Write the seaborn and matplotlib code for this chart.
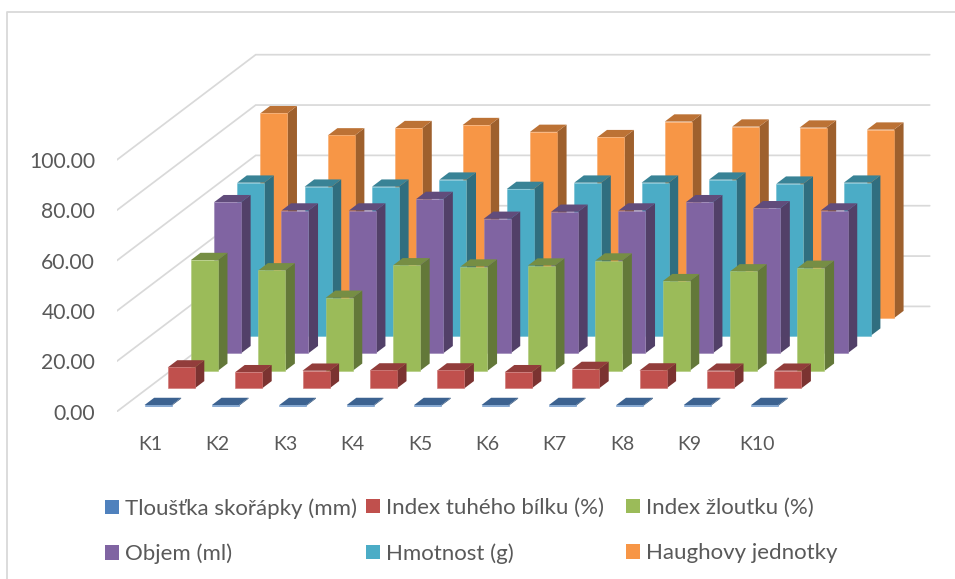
import numpy as np
import pandas as pd
import matplotlib
matplotlib.use("Agg")
import matplotlib.pyplot as plt
from matplotlib.colors import to_rgb
from matplotlib.lines import Line2D
from matplotlib.patches import Patch, Polygon
from matplotlib.transforms import Affine2D
import seaborn as sns

# Egg quality measurements per sample
samples = ["K1", "K2", "K3", "K4", "K5", "K6", "K7", "K8", "K9", "K10"]
tloustka = [0.35, 0.35, 0.35, 0.35, 0.35, 0.35, 0.35, 0.35, 0.35, 0.35]
index_bilku = [8.3, 6.4, 7.0, 7.1, 7.1, 6.4, 7.7, 7.1, 7.0, 7.0]
index_zloutku = [44.0, 39.9, 29.0, 41.9, 41.4, 41.8, 43.8, 35.6, 39.5, 40.9]
objem = [60.0, 56.7, 56.7, 61.3, 53.4, 56.2, 56.7, 60.0, 57.6, 56.7]
hmotnost = [60.8, 59.2, 59.2, 62.0, 58.3, 60.8, 60.8, 62.0, 60.4, 60.8]
haugh = [81.4, 72.6, 75.5, 76.7, 74.0, 71.9, 78.1, 76.1, 75.7, 74.9]

series_names = ["Tloušťka skořápky (mm)", "Index tuhého bílku (%)", "Index žloutku (%)",
                "Objem (ml)", "Hmotnost (g)", "Haughovy jednotky"]
series_values = [tloustka, index_bilku, index_zloutku, objem, hmotnost, haugh]
series_colors = ["#4F81BD", "#C0504D", "#9BBB59", "#8064A2", "#4BACC6", "#F79646"]
y_ticks = [0, 20, 40, 60, 80, 100]

# Pixel scale of the oblique projection
W, H = 955, 579
LEFT_PX, FLOOR_PX = 116.7, 411.7
CAT_PX, UNIT_PX = 67.4, 2.517
DEPTH_X_PX, DEPTH_Y_PX = 139.0, 105.3
KX, KY = DEPTH_X_PX / CAT_PX, DEPTH_Y_PX / UNIT_PX
BAR_WIDTH = 27.0 / CAT_PX
BAR_DEPTH = 0.069
FRONT_GAP = 0.055
GRID = "#D9D9D9"
TEXT = "#595959"


def project(x, v, depth):
    """Map category, value and depth (0 front, 1 back) to flat axes coordinates."""
    return x + KX * depth, v + KY * depth


sns.set_theme(style="white")
plt.rcParams["font.family"] = ["Lato", "DejaVu Sans"]

fig = plt.figure(figsize=(W / 100, H / 100), dpi=100, facecolor="white")
ax = fig.add_axes([LEFT_PX / W, 1 - FLOOR_PX / H, 1 - LEFT_PX / W, FLOOR_PX / H])
ax.patch.set_alpha(0)

# Chart frame, running off the right and bottom of the image
fig.add_artist(Line2D([6.5 / W, 6.5 / W, 1], [0, 1 - 11.7 / H, 1 - 11.7 / H],
                      color=GRID, lw=1.3, transform=fig.transFigure))

# Gridlines on the side wall and the back wall
for tick in y_ticks:
    xs, ys = zip(project(-0.5, tick, 0), project(-0.5, tick, 1), project(9.5, tick, 1))
    ax.plot(xs, ys, color=GRID, lw=1.25, zorder=1, solid_joinstyle="miter")

# Bars from the back row forward, so nearer rows cover farther ones
for s in range(len(series_names) - 1, -1, -1):
    depth = FRONT_GAP + s / len(series_names)
    color = np.array(to_rgb(series_colors[s]))
    z = 10 + (len(series_names) - s) * 2
    frame = pd.DataFrame({"pos": np.arange(len(samples)), "value": series_values[s]})

    shift = Affine2D().translate(*project(0, 0, depth)) + ax.transData
    sns.barplot(data=frame, x="pos", y="value", native_scale=True, width=BAR_WIDTH,
                color=series_colors[s], saturation=1, errorbar=None, ax=ax,
                transform=shift, zorder=z + 1, edgecolor=tuple(color + (1 - color) * 0.2),
                linewidth=0.4)

    for c, v in enumerate(series_values[s]):
        x0, x1 = c - BAR_WIDTH / 2, c + BAR_WIDTH / 2
        near, far = depth, depth + BAR_DEPTH
        top = [project(x0, v, near), project(x1, v, near), project(x1, v, far), project(x0, v, far)]
        side = [project(x1, 0, near), project(x1, v, near), project(x1, v, far), project(x1, 0, far)]
        ax.add_patch(Polygon(side, closed=True, facecolor=color * 0.64, edgecolor="none", zorder=z))
        ax.add_patch(Polygon(top, closed=True, facecolor=color * 0.76, edgecolor="none", zorder=z))

ax.set_xlim(-0.5, -0.5 + (W - LEFT_PX) / CAT_PX)
ax.set_ylim(0, FLOOR_PX / UNIT_PX)
ax.set_xlabel("")
ax.set_ylabel("")
ax.set_xticks(np.arange(len(samples)), samples)
ax.set_yticks(y_ticks, [f"{t:.2f}" for t in y_ticks])
ax.tick_params(axis="x", length=0, pad=17.5, labelsize=14, labelcolor=TEXT)
ax.tick_params(axis="y", length=0, pad=15.5, labelsize=15.2, labelcolor=TEXT)
ax.grid(False)
sns.despine(ax=ax, left=True, bottom=True)

# One legend per column so the three columns sit at even spacing
legend_columns = [(0, 3), (1, 4), (2, 5)]
column_left_px = [105, 366, 626]
for members, left in zip(legend_columns, column_left_px):
    handles = [Patch(facecolor=series_colors[i], edgecolor="none", label=series_names[i]) for i in members]
    fig.legend(handles=handles, loc="upper left", bbox_to_anchor=(left / W, 1 - 498 / H),
               frameon=False, fontsize=16, labelcolor=TEXT, handlelength=0.63, handleheight=0.63,
               handletextpad=0.27, labelspacing=1.13, borderpad=0, borderaxespad=0)

fig.savefig("out.png", dpi=100, facecolor="white")
